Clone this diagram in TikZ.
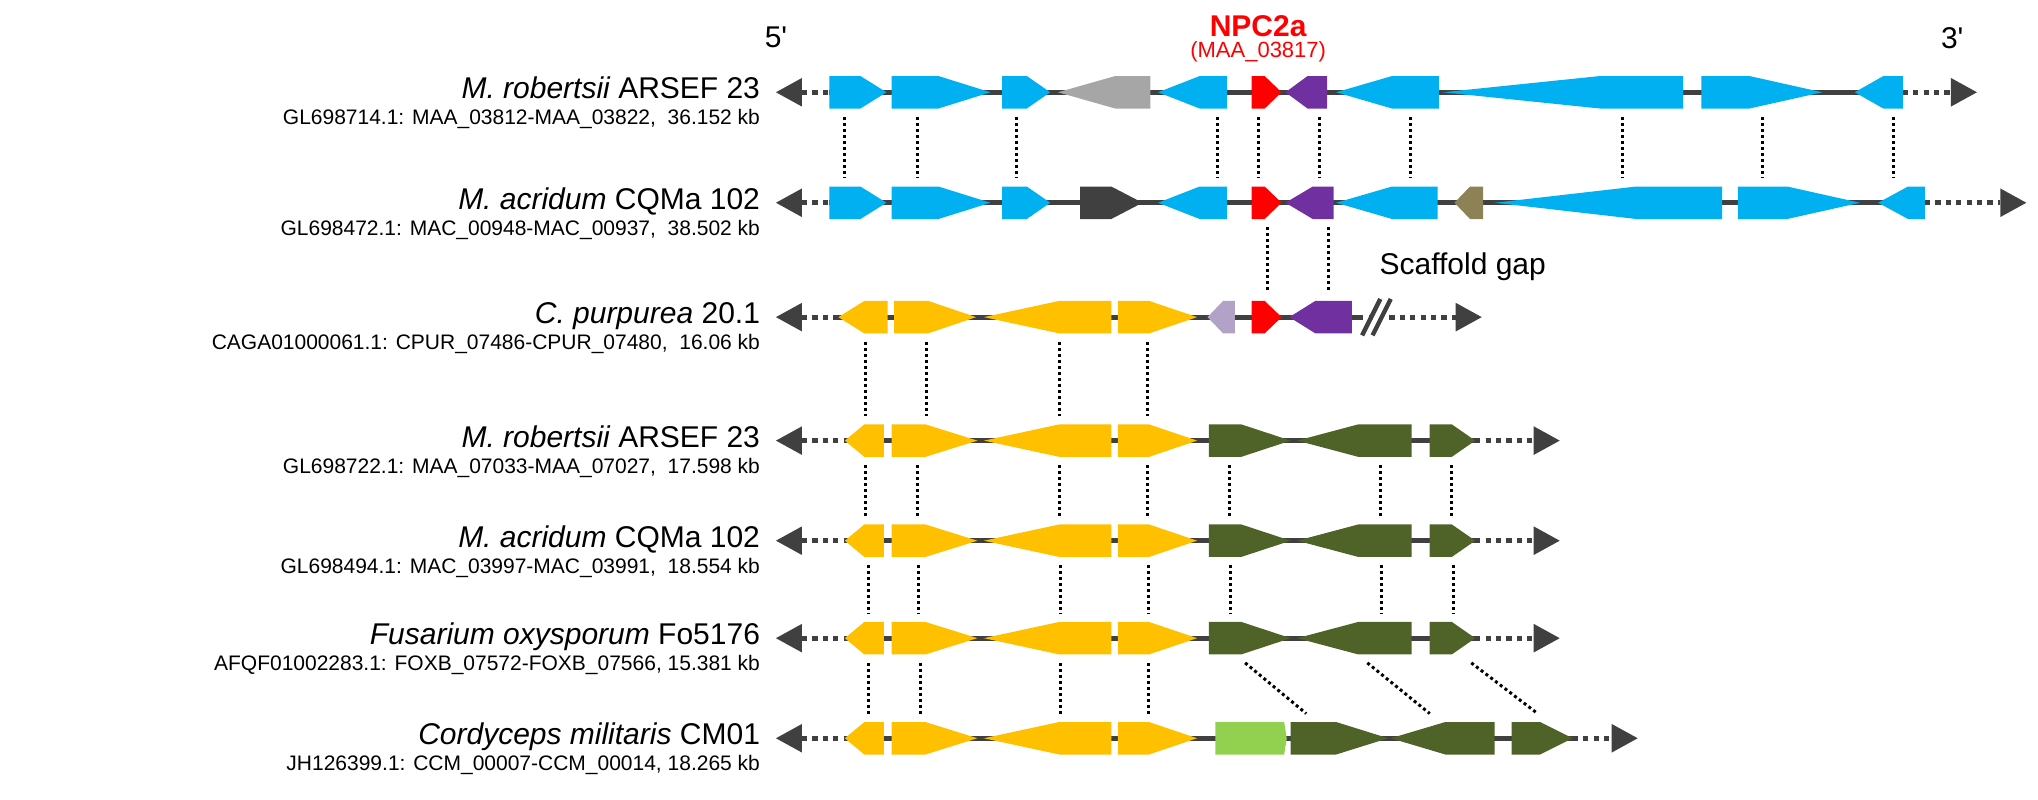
\documentclass[tikz,border=0pt]{standalone}
\usepackage{fontspec}
\setmainfont{Liberation Sans}
\definecolor{cblue}{HTML}{00B0F0}
\definecolor{cgrey}{HTML}{A6A6A6}
\definecolor{cdark}{HTML}{404040}
\definecolor{cpurple}{HTML}{7030A0}
\definecolor{colive}{HTML}{8C8255}
\definecolor{cyellow}{HTML}{FFC000}
\definecolor{clav}{HTML}{B3A2C7}
\definecolor{cgreen}{HTML}{4F6228}
\definecolor{clgreen}{HTML}{92D050}
% right / left pointing gene: {colour}{row y}{x0}{x1}{x2}
\newcommand{\genR}[5]{\fill[#1] (#3,#2-12.5) -- (#4,#2-12.5) -- (#5,#2) -- (#4,#2+12.5) -- (#3,#2+12.5) -- cycle;}
\newcommand{\genL}[5]{\fill[#1] (#3,#2) -- (#4,#2-12.5) -- (#5,#2-12.5) -- (#5,#2+12.5) -- (#4,#2+12.5) -- cycle;}
% backbone with dotted ends: {y}{left arrow tip}{line start}{line end}{right arrow tip}
\newcommand{\strand}[5]{
  \fill[cdark] (#2,#1) -- (#2+20,#1-11) -- (#2+20,#1+11) -- cycle;
  \draw[link dots] (#2+20,#1) -- (#3,#1);
  \draw[backbone] (#3,#1) -- (#4,#1);
  \draw[link dots] (#4,#1) -- (#5-20,#1);
  \fill[cdark] (#5,#1) -- (#5-20,#1-11) -- (#5-20,#1+11) -- cycle;}
\newcommand{\homol}[3]{\draw[hom] (#1,#2+19) -- (#1,#3-19);}
\begin{document}
\begin{tikzpicture}[x=0.65pt,y=-0.65pt,
  backbone/.style={cdark,line width=2.6pt},
  link dots/.style={cdark,line width=2.6pt,dash pattern=on 2.6pt off 2.6pt},
  hom/.style={black,line width=1.5pt,dash pattern=on 1.5pt off 1.5pt},
  species/.style={anchor=base east,font=\fontsize{15}{15}\selectfont,inner sep=0pt},
  locus/.style={anchor=base east,font=\fontsize{10.5}{11}\selectfont,inner sep=0pt}]
\useasboundingbox (0,0) rectangle (1568,615);
\def\ya{71}\def\yb{156}\def\yc{244}\def\yd{339}\def\ye{416}\def\yf{491}\def\yg{568}
% labels
\node[species] (sp1) at (585,\ya+5) {\itshape M. robertsii\upshape{} ARSEF 23};
\node[locus] (lc1) at (585,\ya+25) {GL698714.1: MAA\_03812-MAA\_03822,~ 36.152 kb};
\node[species] (sp2) at (585,\yb+5) {\itshape M. acridum\upshape{} CQMa 102};
\node[locus] (lc2) at (585,\yb+25) {GL698472.1: MAC\_00948-MAC\_00937,~ 38.502 kb};
\node[species] (sp3) at (585,\yc+5) {\itshape C. purpurea\upshape{} 20.1};
\node[locus] (lc3) at (585,\yc+25) {CAGA01000061.1: CPUR\_07486-CPUR\_07480,~ 16.06 kb};
\node[species] (sp4) at (585,\yd+5) {\itshape M. robertsii\upshape{} ARSEF 23};
\node[locus] (lc4) at (585,\yd+25) {GL698722.1: MAA\_07033-MAA\_07027,~ 17.598 kb};
\node[species] (sp5) at (585,\ye+5) {\itshape M. acridum\upshape{} CQMa 102};
\node[locus] (lc5) at (585,\ye+25) {GL698494.1: MAC\_03997-MAC\_03991,~ 18.554 kb};
\node[species] (sp6) at (585,\yf+5) {\itshape Fusarium oxysporum\upshape{} Fo5176};
\node[locus] (lc6) at (585,\yf+25) {AFQF01002283.1: FOXB\_07572-FOXB\_07566, 15.381 kb};
\node[species] (sp7) at (585,\yg+5) {\itshape Cordyceps militaris\upshape{} CM01};
\node[locus] (lc7) at (585,\yg+25) {JH126399.1: CCM\_00007-CCM\_00014, 18.265 kb};
\node[font=\fontsize{15}{15}\selectfont] (p5) at (597,29) {5\textquotesingle};
\node[font=\fontsize{15}{15}\selectfont] (p3) at (1502,29) {3\textquotesingle};
\node[font=\fontsize{15}{15}\selectfont\bfseries,text=red] (npc) at (968,20) {NPC2a};
\node[font=\fontsize{11}{11}\selectfont,text=red] (maa) at (968,40) {(MAA\_03817)};
\node[font=\fontsize{15}{15}\selectfont,anchor=west] (gap) at (1056,205) {Scaffold gap};
% row 1
\strand{\ya}{597}{638}{1464}{1521}
\genR{cblue}{\ya}{638}{662}{682}
\genR{cblue}{\ya}{686}{722}{762}
\genR{cblue}{\ya}{771}{790}{808}
\genL{cgrey}{\ya}{814}{858}{885}
\genL{cblue}{\ya}{891}{923}{944}
\genR{red}{\ya}{963}{973}{986}
\genL{cpurple}{\ya}{989}{1006}{1021}
\genL{cblue}{\ya}{1028}{1071}{1107}
\genL{cblue}{\ya}{1110}{1231}{1295}
\genR{cblue}{\ya}{1309}{1346}{1402}
\genL{cblue}{\ya}{1427}{1449}{1464}
% row 2
\strand{\yb}{597}{638}{1481}{1559}
\genR{cblue}{\yb}{638}{662}{682}
\genR{cblue}{\yb}{686}{722}{762}
\genR{cblue}{\yb}{771}{790}{808}
\genR{cdark}{\yb}{831}{855}{879}
\genL{cblue}{\yb}{891}{923}{944}
\genR{red}{\yb}{963}{973}{986}
\genL{cpurple}{\yb}{989}{1010}{1026}
\genL{cblue}{\yb}{1028}{1071}{1106}
\genL{colive}{\yb}{1119}{1131}{1141}
\genL{cblue}{\yb}{1150}{1259}{1325}
\genR{cblue}{\yb}{1337}{1375}{1431}
\genL{cblue}{\yb}{1445}{1468}{1481}
% row 3
\strand{\yc}{597}{645}{1045}{1140}
\genL{cyellow}{\yc}{645}{665}{683}
\genR{cyellow}{\yc}{688}{714}{751}
\genL{cyellow}{\yc}{757}{815}{855}
\genR{cyellow}{\yc}{860}{884}{921}
\genL{clav}{\yc}{929}{941}{950}
\genR{red}{\yc}{963}{973}{986}
\genL{cpurple}{\yc}{992}{1012}{1040}
\fill[white] (1048,\yc-14) -- (1060,\yc-14) -- (1074,\yc+14) -- (1062,\yc+14) -- cycle;
\draw[cdark,line width=2.2pt] (1048,\yc+14) -- (1062,\yc-14) (1056,\yc+14) -- (1070,\yc-14);
% rows 4 to 6
\foreach \yy in {\yd,\ye,\yf}{
  \strand{\yy}{597}{650}{1135}{1200}
  \genL{cyellow}{\yy}{650}{665}{680}
  \genR{cyellow}{\yy}{686}{712}{752}
  \genL{cyellow}{\yy}{757}{815}{855}
  \genR{cyellow}{\yy}{860}{884}{921}
  \genR{cgreen}{\yy}{930}{955}{993}
  \genL{cgreen}{\yy}{998}{1045}{1086}
  \genR{cgreen}{\yy}{1100}{1117}{1135}
}
% row 7
\strand{\yg}{597}{650}{1210}{1260}
\genL{cyellow}{\yg}{650}{665}{680}
\genR{cyellow}{\yg}{686}{712}{752}
\genL{cyellow}{\yg}{757}{815}{855}
\genR{cyellow}{\yg}{860}{884}{921}
\genR{clgreen}{\yg}{935}{988}{990}
\genR{cgreen}{\yg}{993}{1028}{1068}
\genL{cgreen}{\yg}{1070}{1112}{1150}
\genR{cgreen}{\yg}{1163}{1185}{1210}
% homologues
\foreach \xx in {650,706,782,937,968,1015,1085,1248,1356,1457}{\homol{\xx}{\ya}{\yb}}
\foreach \xx in {975,1022}{\homol{\xx}{\yb}{\yc}}
\foreach \xx in {666,713,815,883}{\homol{\xx}{\yc}{\yd}}
\foreach \xx in {666,706,815,883,946,1062,1117}{\homol{\xx}{\yd}{\ye}}
\foreach \xx in {668,707,816,884,947,1063,1118}{\homol{\xx}{\ye}{\yf}}
\foreach \xx in {668,708,816,884}{\homol{\xx}{\yf}{\yg}}
\draw[hom] (958,\yf+19) -- (1005,\yg-19);
\draw[hom] (1052,\yf+19) -- (1100,\yg-19);
\draw[hom] (1132,\yf+19) -- (1183,\yg-19);
\end{tikzpicture}
\end{document}
